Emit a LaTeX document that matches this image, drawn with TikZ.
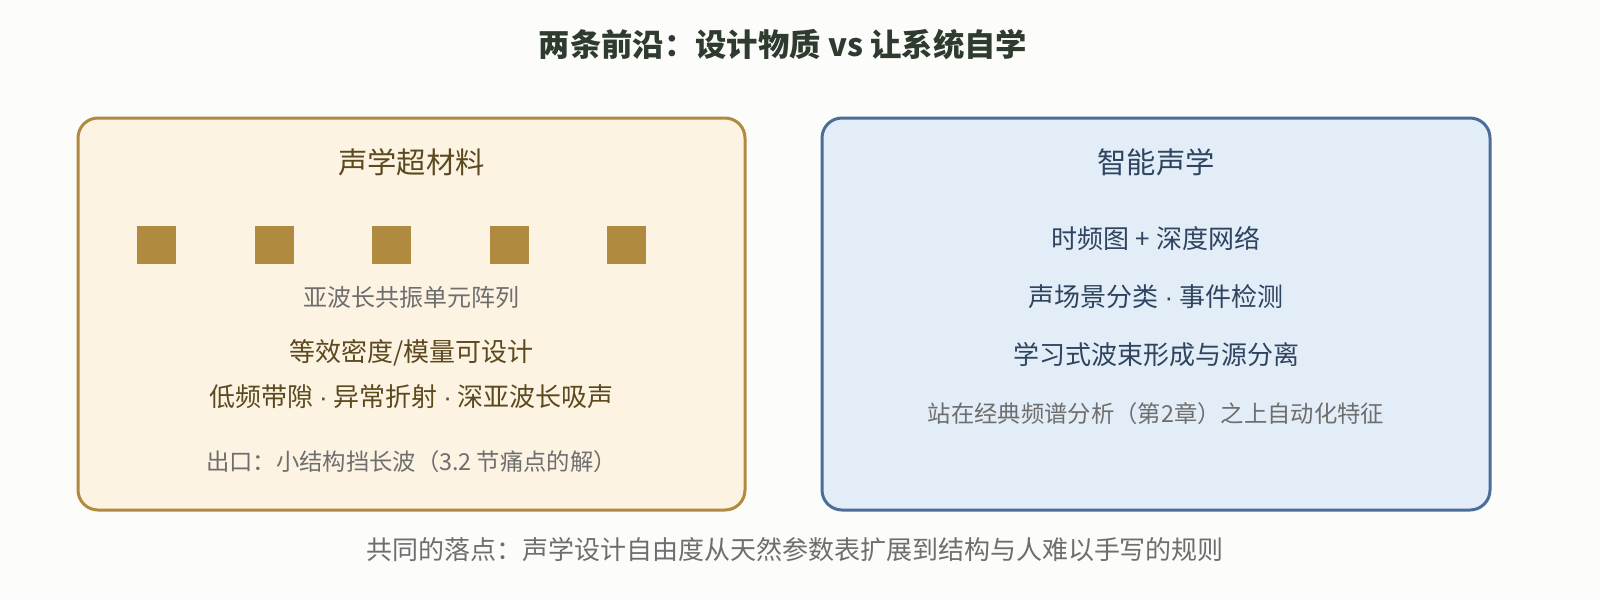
\documentclass[tikz,border=0pt]{standalone}
\usepackage{fontspec}
\setmainfont{Noto Sans CJK SC}
\newfontfamily\latinfont{Liberation Sans}
\newcommand{\mdot}{{\latinfont ·}}
\usetikzlibrary{positioning}
\definecolor{mbg}{HTML}{FCFCFA}
\definecolor{mhead}{HTML}{2E3B2E}
\definecolor{mcream}{HTML}{FDF3E3}
\definecolor{mbrown}{HTML}{B08A3E}
\definecolor{mbrowntxt}{HTML}{5C4A1E}
\definecolor{mskyfill}{HTML}{E3EDF7}
\definecolor{msteel}{HTML}{4A6E99}
\definecolor{mnavytxt}{HTML}{2E4460}
\definecolor{mgrey}{HTML}{6E6E6E}
\tikzset{panel/.style = {line width = 2.25pt, rounded corners = 15pt}}
\tikzset{cell/.style = {fill = mbrown}}
\tikzset{ptitle/.style = {font = \fontsize{22}{26}\selectfont}}
\tikzset{pbody/.style = {font = \fontsize{19.5}{24}\selectfont}}
\tikzset{pnote/.style = {font = \fontsize{17.5}{21}\selectfont, text = mgrey}}

\begin{document}
\begin{tikzpicture}[x = 0.75pt, y = -0.75pt]
    \fill [mbg] (0, 0) rectangle (1600, 600);
    \useasboundingbox (0, 0) rectangle (1600, 600);

    \node [font = \fontsize{23.5}{28}\selectfont\bfseries, text = mhead] (head) at (783, 45) {两条前沿：设计物质 vs 让系统自学};

    \begin{scope}[shift={(0, 0)}]
      \draw [panel, draw = mbrown, fill = mcream] (78, 118) rectangle (745, 510);
      \node [ptitle, text = mbrowntxt] (metaTitle) at (411.5, 162) {声学超材料};

      \fill [cell] (137, 226) rectangle (176, 264);
      \fill [cell] (255, 226) rectangle (294, 264);
      \fill [cell] (372, 226) rectangle (411, 264);
      \fill [cell] (490, 226) rectangle (529, 264);
      \fill [cell] (607, 226) rectangle (646, 264);

      \node [pnote, font = \fontsize{18}{22}\selectfont] (metaCells) at (411.5, 297) {亚波长共振单元阵列};
      \node [pbody, text = mbrowntxt] (metaDesign) at (411.5, 353) {等效密度/模量可设计};
      \node [pbody, text = mbrowntxt] (metaEffects) at (411.5, 397) {低频带隙 \mdot{} 异常折射 \mdot{} 深亚波长吸声};
      \node [pnote] (metaExit) at (411.5, 462) {出口：小结构挡长波（3.2 节痛点的解）};
    \end{scope}

    \begin{scope}[shift={(0, 0)}]
      \draw [panel, draw = msteel, fill = mskyfill] (822, 118) rectangle (1490, 510);
      \node [ptitle, text = mnavytxt] (smartTitle) at (1156, 162) {智能声学};

      \node [pbody, text = mnavytxt] (smartNet) at (1156, 238) {时频图 + 深度网络};
      \node [pbody, text = mnavytxt] (smartScene) at (1156, 297) {声场景分类 \mdot{} 事件检测};
      \node [pbody, text = mnavytxt] (smartBeam) at (1156, 355) {学习式波束形成与源分离};
      \node [pnote] (smartNote) at (1156, 414) {站在经典频谱分析（第2章）之上自动化特征};
    \end{scope}

    \node [pbody, text = mgrey] (common) at (795, 550) {共同的落点：声学设计自由度从天然参数表扩展到结构与人难以手写的规则};

  \end{tikzpicture}
\end{document}
